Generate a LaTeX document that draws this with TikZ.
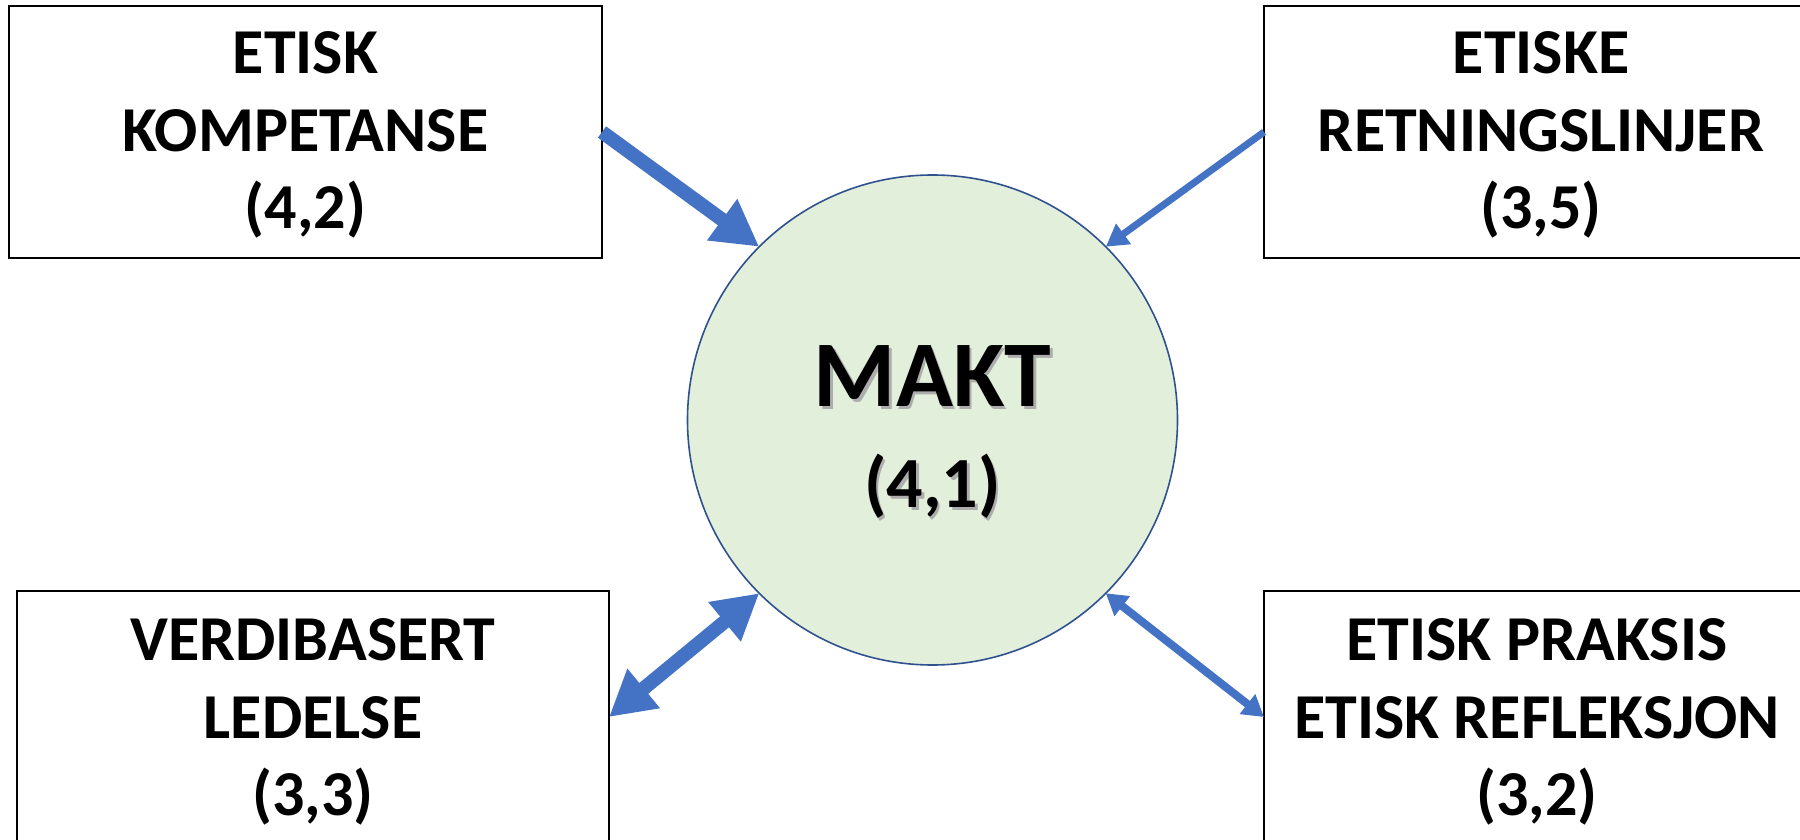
\documentclass[tikz,border=0pt]{standalone}
\usepackage{fontspec}
\setmainfont{Carlito}
\usetikzlibrary{arrows.meta}
\definecolor{arrowblue}{HTML}{4472C4}
\definecolor{circline}{HTML}{2F528F}
\definecolor{circfill}{HTML}{E2EFDA}
\begin{document}
\begin{tikzpicture}[x=1pt,y=1pt,
  box/.style={draw=black, line width=1.5pt, minimum width=#1, minimum height=252pt, inner sep=0pt, outer sep=0pt},
  boxtext/.style={font=\bfseries\fontsize{64}{77.5}\selectfont, align=center, inner sep=0pt},
  bigarrow/.style={draw=arrowblue, line width=14pt},
  smallarrow/.style={draw=arrowblue, line width=7pt},
  bighead/.style={-{Triangle[length=46pt,width=48pt]}},
  bigdouble/.style={{Triangle[length=45pt,width=48pt]}-{Triangle[length=45pt,width=48pt]}},
  smallhead/.style={-{Triangle[length=22pt,width=24pt]}},
  smalldouble/.style={{Triangle[length=21pt,width=24pt]}-{Triangle[length=21pt,width=24pt]}},
  shadowtext/.style={text=black!32},
]
\useasboundingbox (0,0) rectangle (1800,839);
\clip (0,0) rectangle (1800,839);
\fill[white] (0,0) rectangle (1800,839);

% boxes
\node[box=593pt] (tl) at (305.5,707) {};
\node[box=552pt] (tr) at (1540,707) {};
\node[box=592pt] (bl) at (313,122) {};
\node[box=552pt] (br) at (1540,122) {};

\node[boxtext] (tltext) at (305.5,704) {ETISK\\KOMPETANSE\\(4,2)};
\node[boxtext] (trtext) at (1541,704) {ETISKE\\RETNINGSLINJER\\(3,5)};
\node[boxtext] (bltext) at (313,117) {VERDIBASERT\\LEDELSE\\(3,3)};
\node[boxtext] (brtext) at (1537,117) {ETISK PRAKSIS\\ETISK REFLEKSJON\\(3,2)};

% circle
\node[circle, draw=circline, line width=1.6pt, fill=circfill, minimum size=490pt, inner sep=0pt, outer sep=0pt] (makt) at (932.5,419) {};

\node[anchor=base, inner sep=0pt, shadowtext, font=\bfseries\fontsize{94}{100}\selectfont] (maktshadow) at (935,429.5) {MAKT};
\node[anchor=base, inner sep=0pt, font=\bfseries\fontsize{94}{100}\selectfont] (makttext) at (932.5,432) {MAKT};
\node[anchor=base, inner sep=0pt, shadowtext, font=\bfseries\fontsize{72}{80}\selectfont] (maktnumshadow) at (935,328.5) {(4,1)};
\node[anchor=base, inner sep=0pt, font=\bfseries\fontsize{72}{80}\selectfont] (maktnum) at (932.5,331) {(4,1)};

% connectors
\draw[bigarrow, bighead] (tl.east) -- (makt.135);
\draw[smallarrow, smallhead] (tr.west) -- (makt.45);
\draw[bigarrow, bigdouble] (bl.east) -- (makt.225);
\draw[smallarrow, line width=8pt, smalldouble] (br.west) -- (makt.-45);
\end{tikzpicture}
\end{document}
